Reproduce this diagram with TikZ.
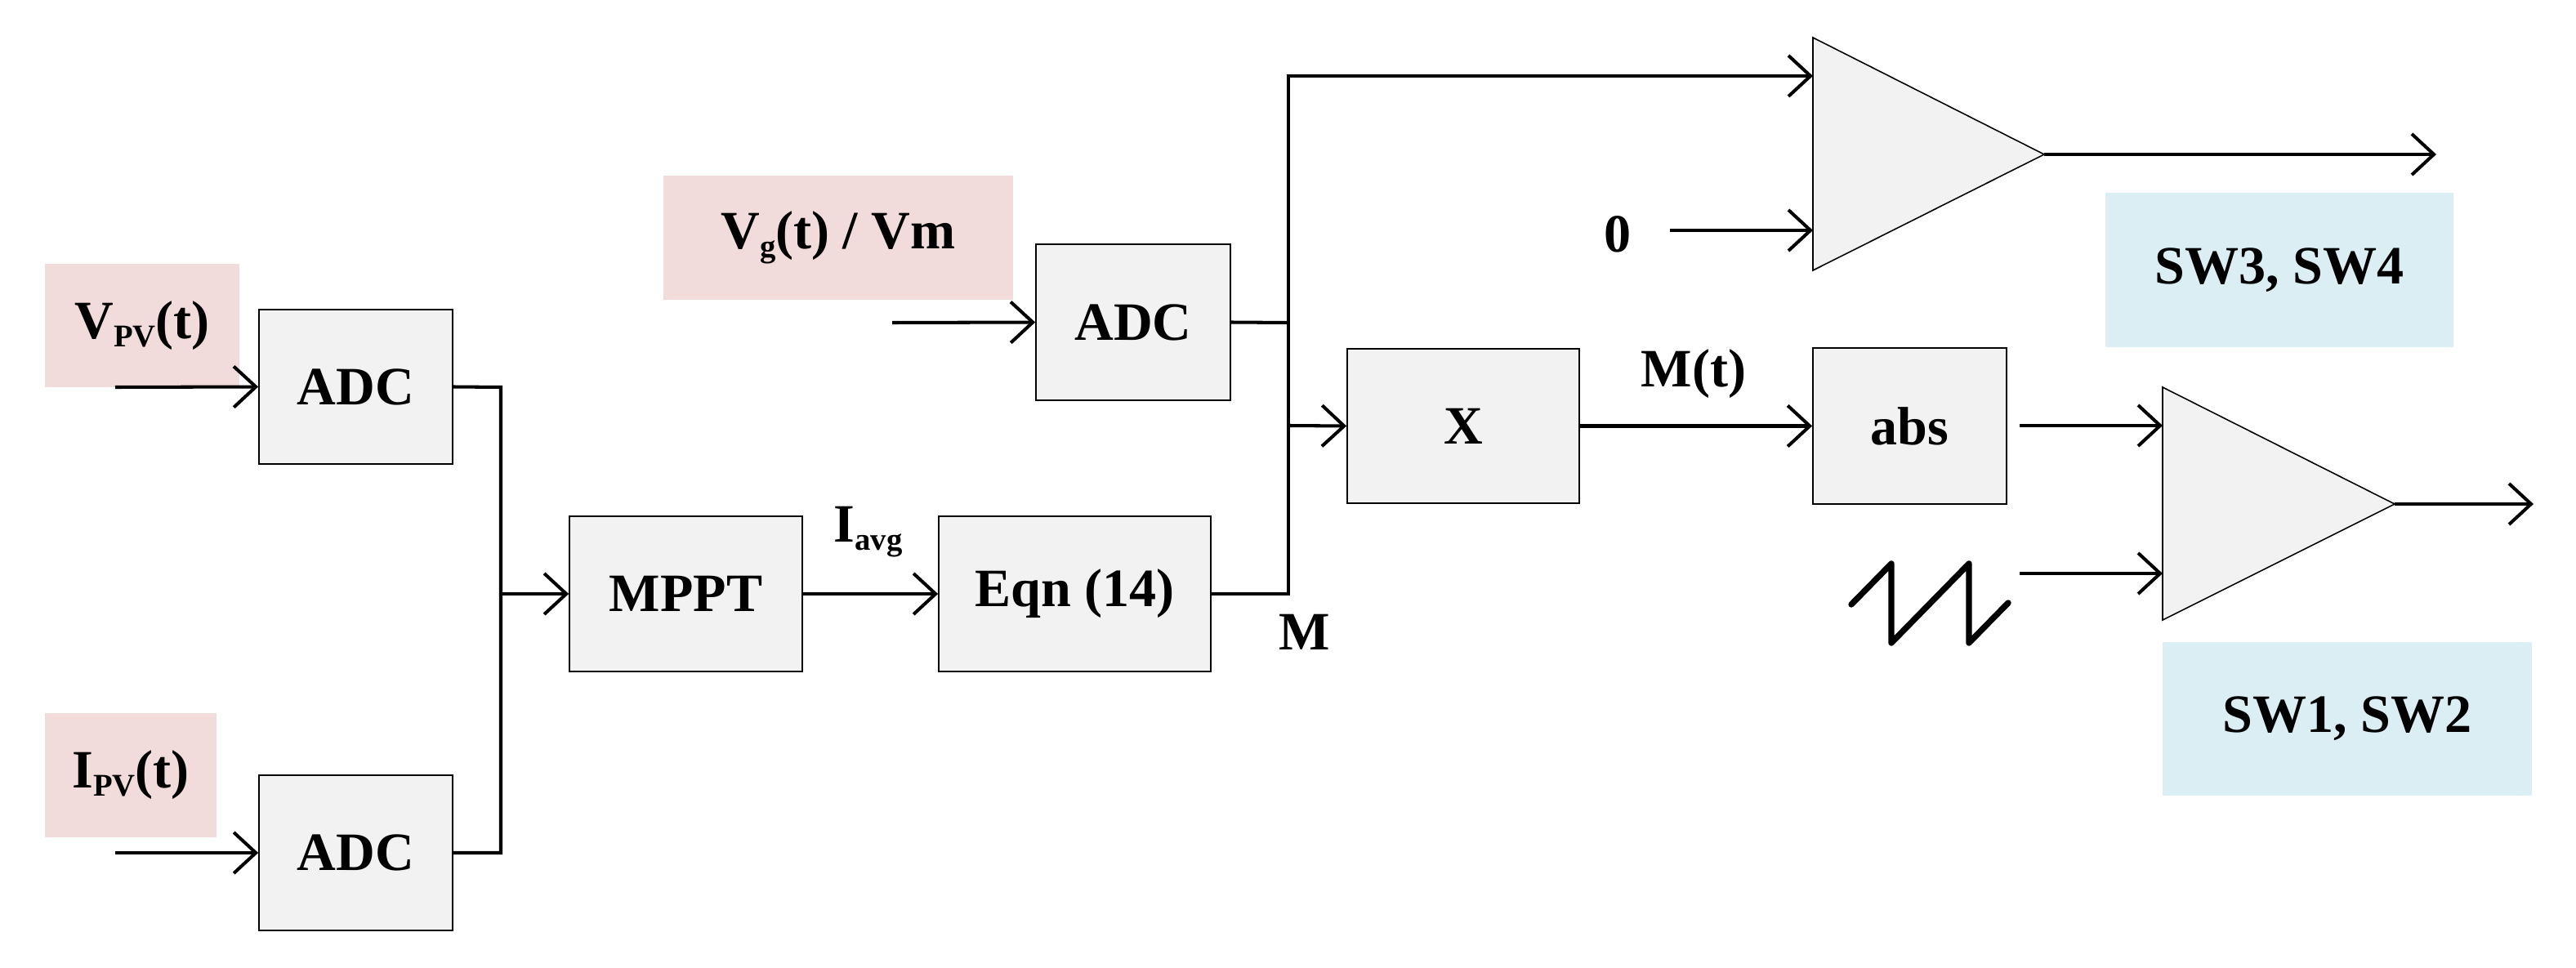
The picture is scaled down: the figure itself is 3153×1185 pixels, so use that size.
\documentclass[tikz,border=0pt]{standalone}
\usepackage{fontspec}
\setmainfont{Liberation Serif}
\usetikzlibrary{arrows.meta}
\definecolor{boxgray}{HTML}{F2F2F2}
\definecolor{pinkbg}{HTML}{F2DCDB}
\definecolor{bluebg}{HTML}{DAEEF3}
\newcommand\lowsub[1]{\raisebox{-0.1cm}{\fontsize{11}{12}\selectfont #1}}
\begin{document}
\begin{tikzpicture}[x=0.01cm,y=-0.01cm,
  font=\fontsize{18.8}{22}\selectfont\bfseries,
  blk/.style={draw=black, line width=0.45pt, fill=boxgray, inner sep=0pt},
  lbl/.style={fill=pinkbg, inner sep=0pt},
  swlbl/.style={fill=bluebg, inner sep=0pt},
  conn/.style={line width=1.15pt},
  arr/.style={conn, -{Straight Barb[length=0.27cm,width=0.5cm]}},
  txt/.style={inner sep=0pt},
  tri/.style={draw=black, line width=0.45pt, fill=boxgray}]
\useasboundingbox (0,0) rectangle (3153,1185);

% label boxes
\node[lbl, minimum width=2.38cm, minimum height=1.51cm] (vpv) at (174,398.5) {V\lowsub{PV}(t)};
\node[lbl, minimum width=2.10cm, minimum height=1.52cm] (ipv) at (160,949) {I\lowsub{PV}(t)};
\node[lbl, minimum width=4.28cm, minimum height=1.52cm] (vg) at (1026,291) {V\lowsub{g}(t) / Vm};
\node[swlbl, minimum width=4.26cm, minimum height=1.89cm] (sw34) at (2790,330.5) {SW3, SW4};
\node[swlbl, minimum width=4.52cm, minimum height=1.88cm] (sw12) at (2873,880) {SW1, SW2};

% blocks
\node[blk, minimum width=2.37cm, minimum height=1.89cm] (adc1) at (435.5,473.5) {ADC};
\node[blk, minimum width=2.37cm, minimum height=1.90cm] (adc2) at (435.5,1044) {ADC};
\node[blk, minimum width=2.85cm, minimum height=1.90cm] (mppt) at (839.5,727) {MPPT};
\node[blk, minimum width=3.33cm, minimum height=1.90cm] (eqn) at (1315.5,727) {Eqn (14)};
\node[blk, minimum width=2.38cm, minimum height=1.91cm] (adc3) at (1387,394.5) {ADC};
\node[blk, minimum width=2.84cm, minimum height=1.89cm] (mult) at (1791,521.5) {X};
\node[blk, minimum width=2.37cm, minimum height=1.91cm] (abs) at (2337.5,521.5) {abs};

% free labels
\node[txt, anchor=base west] (iavg) at (1020,663) {I\lowsub{avg}};
\node[txt, anchor=base west] (mlbl) at (1565,795) {M};
\node[txt, anchor=base west] (mt) at (2008,473) {M(t)};
\node[txt] (zero) at (1980,287) {0};

% comparators
\draw[tri] (2219,46) -- (2219,331) -- (2502,189) -- cycle;
\draw[tri] (2647,474) -- (2647,759) -- (2931,617) -- cycle;
\coordinate (c1a) at (2219,93);
\coordinate (c1b) at (2219,282);
\coordinate (c1o) at (2502,189);
\coordinate (c1end) at (2982,189);
\coordinate (c2a) at (2647,521);
\coordinate (c2b) at (2647,702);
\coordinate (c2o) at (2931,617);
\coordinate (c2end) at (3101,617);

% junction points
\coordinate (in1) at (141,474);
\coordinate (in2) at (141,1044);
\coordinate (in3) at (1092,395);
\coordinate (j1) at (613,474);
\coordinate (j2) at (613,1044);
\coordinate (j3) at (613,727);
\coordinate (k0) at (1577,727);
\coordinate (ktop) at (1577,93);
\coordinate (kadc) at (1577,395);
\coordinate (kx) at (1577,521);
\coordinate (zs) at (2044,282);
\coordinate (as) at (2472,521);
\coordinate (ss) at (2472,702);

% connectors
\draw[arr] (in1) -- (adc1.west);
\draw[arr] (in2) -- (adc2.west);
\draw[conn] (adc1.east) -- (j1) -- (j2) -- (adc2.east);
\draw[arr] (j3) -- (mppt.west);
\draw[arr] (mppt.east) -- (eqn.west);
\draw[arr] (eqn.east) -- (k0) -- (ktop) -- (c1a);
\draw[arr] (in3) -- (adc3.west);
\draw[conn] (adc3.east) -- (kadc);
\draw[arr] (kx) -- (mult.west);
\draw[arr] (mult.east) -- (abs.west);
\draw[arr] (zs) -- (c1b);
\draw[arr] (c1o) -- (c1end);
\draw[arr] (as) -- (c2a);
\draw[arr] (ss) -- (c2b);
\draw[arr] (c2o) -- (c2end);

% sawtooth
\draw[line width=2.1pt, line cap=round, line join=round]
  (2266,740) -- (2315,690) -- (2315,787) -- (2410,690) -- (2410,787) -- (2458,738);
\end{tikzpicture}
\end{document}
